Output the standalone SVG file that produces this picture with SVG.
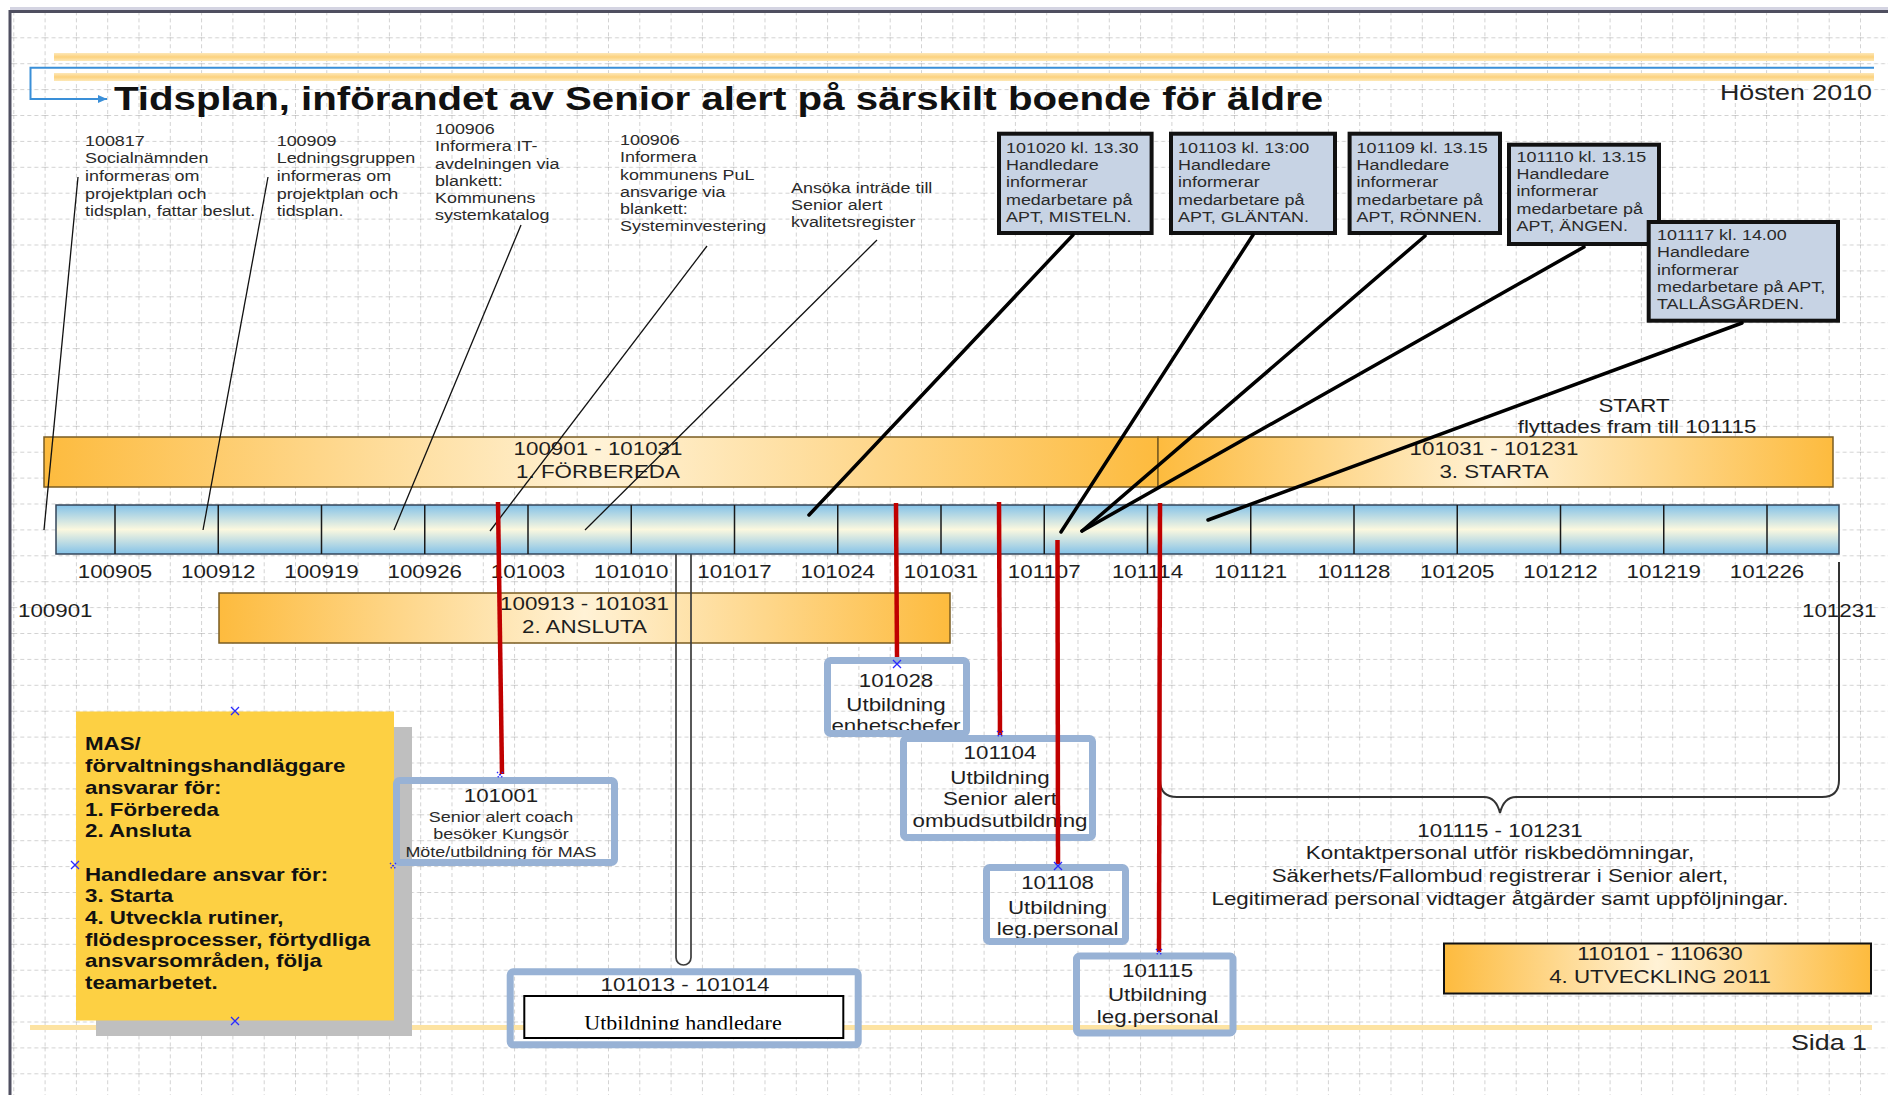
<svg xmlns="http://www.w3.org/2000/svg" width="1888" height="1095" viewBox="0 0 1888 1095">
<defs>
<style>
text{font-family:"Liberation Sans",Arial,sans-serif;fill:#1e1e1e;transform-box:fill-box;transform:scaleX(1.22);transform-origin:0% 50%}
.c{text-anchor:middle;transform-origin:50% 50%}
.e{text-anchor:end;transform-origin:100% 50%}
.s{font-size:14.7px;fill:#2a2a2a}
.m{font-size:18.3px}
.b{font-size:18.3px;font-weight:bold;fill:#111}
.ttl{font-size:33px;font-weight:bold;fill:#111}
.h{font-size:22px;fill:#222}
.tm{font-family:"Liberation Serif","Times New Roman",serif;font-size:22px;transform:none;fill:#000}
.orb{stroke:#7a5c22;stroke-width:1.5}
.tb{fill:#c7d3e4;stroke:#111;stroke-width:4}
.nb{fill:none;stroke:#98b2d5;stroke-width:7}
.red{stroke:#c00000;stroke-width:4.5;fill:none}
.lead{stroke:#000;stroke-width:3.5;stroke-linecap:round}
.thin{stroke:#111;stroke-width:1.3}
.xm{stroke:#2a2aff;stroke-width:1.3}
.div{stroke:#1a1a1a;stroke-width:1.5}
</style>
<pattern id="grid" patternUnits="userSpaceOnUse" x="13.3" y="11.4" width="31.3" height="25.9">
<path d="M0,0 V25.9 M0,0 H31.3" fill="none" stroke="#a6a6a6" stroke-width="1" stroke-dasharray="4 3"/>
</pattern>
<linearGradient id="og" x1="0" y1="0" x2="1" y2="0"><stop offset="0" stop-color="#fdbb3e"/><stop offset="0.5" stop-color="#fff2d6"/><stop offset="1" stop-color="#fdbb3e"/></linearGradient>
<linearGradient id="bg" x1="0" y1="0" x2="0" y2="1"><stop offset="0" stop-color="#84c2e8"/><stop offset="0.5" stop-color="#fbf8df"/><stop offset="1" stop-color="#84c2e8"/></linearGradient>
<linearGradient id="band" x1="0" y1="0" x2="0" y2="1"><stop offset="0" stop-color="#fde8b8"/><stop offset="0.5" stop-color="#fcd27e"/><stop offset="1" stop-color="#fde8b8"/></linearGradient>
<marker id="ba" markerWidth="9" markerHeight="8" refX="9" refY="4" orient="auto" markerUnits="userSpaceOnUse"><path d="M0,0 L9,4 L0,8 z" fill="#3a8fd8"/></marker>
<clipPath id="clipU"><rect x="524" y="996" width="320" height="33.5"/></clipPath>
</defs>

<rect x="0" y="0" width="1888" height="1095" fill="#fff"/>
<rect x="11" y="13" width="1877" height="1082" fill="url(#grid)"/>
<path d="M10,1095 V11.5 H1888" fill="none" stroke="#4f4f60" stroke-width="3"/>
<rect x="10" y="7" width="1878" height="3" fill="#d4d4e2"/>

<g id="header">
<rect x="54" y="53" width="1820" height="8" fill="url(#band)"/>
<rect x="54" y="73" width="1820" height="8" fill="url(#band)"/>
<path d="M1874,67.7 H30.5 V99 H107" fill="none" stroke="#3a8fd8" stroke-width="2" marker-end="url(#ba)"/>
<text class="ttl" x="114" y="110">Tidsplan, införandet av Senior alert på särskilt boende för äldre</text>
<text class="h e" x="1872" y="100">Hösten 2010</text>
</g>

<rect x="30" y="1025" width="1842" height="5" fill="#fde3a2"/>

<g id="bar-forbereda">
<rect class="orb" x="44" y="437" width="1114" height="50" fill="url(#og)"/>
<text class="m c" x="598" y="455">100901 - 101031</text>
<text class="m c" x="598" y="478">1. FÖRBEREDA</text>
</g>
<g id="bar-starta">
<rect class="orb" x="1158" y="437" width="675" height="50" fill="url(#og)"/>
<text class="m c" x="1494" y="455">101031 - 101231</text>
<text class="m c" x="1494" y="478">3. STARTA</text>
</g>
<g id="start-note">
<text class="m c" x="1634" y="411.7">START</text>
<text class="m c" x="1637" y="433">flyttades fram till 101115</text>
</g>

<g id="bar-ansluta">
<rect class="orb" x="219" y="593" width="731" height="50" fill="url(#og)"/>
<text class="m c" x="584.5" y="610">100913 - 101031</text>
<text class="m c" x="584.5" y="633.3">2. ANSLUTA</text>
</g>

<rect id="capsule" x="676" y="530" width="15" height="435" rx="7.5" fill="none" stroke="#3c3c3c" stroke-width="1.7"/>

<g id="timeline">
<rect x="56" y="505" width="1783" height="49" fill="url(#bg)" stroke="#34465a" stroke-width="1.5"/>
<path class="div" d="M115,505V554 M218.25,505V554 M321.5,505V554 M424.75,505V554 M528,505V554 M631.25,505V554 M734.5,505V554 M837.75,505V554 M941,505V554 M1044.25,505V554 M1147.5,505V554 M1250.75,505V554 M1354,505V554 M1457.25,505V554 M1560.5,505V554 M1663.75,505V554 M1767,505V554"/>
<text class="m c" x="115" y="578">100905</text>
<text class="m c" x="218.25" y="578">100912</text>
<text class="m c" x="321.5" y="578">100919</text>
<text class="m c" x="424.75" y="578">100926</text>
<text class="m c" x="528" y="578">101003</text>
<text class="m c" x="631.25" y="578">101010</text>
<text class="m c" x="734.5" y="578">101017</text>
<text class="m c" x="837.75" y="578">101024</text>
<text class="m c" x="941" y="578">101031</text>
<text class="m c" x="1044.25" y="578">101107</text>
<text class="m c" x="1147.5" y="578">101114</text>
<text class="m c" x="1250.75" y="578">101121</text>
<text class="m c" x="1354" y="578">101128</text>
<text class="m c" x="1457.25" y="578">101205</text>
<text class="m c" x="1560.5" y="578">101212</text>
<text class="m c" x="1663.75" y="578">101219</text>
<text class="m c" x="1767" y="578">101226</text>
<text class="m" x="18" y="617">100901</text>
<text class="m" x="1802" y="617">101231</text>
</g>

<g id="ann-100817">
<text class="s" x="85" y="145.7">100817<tspan x="85" dy="17.7">Socialnämnden</tspan><tspan x="85" dy="17.7">informeras om</tspan><tspan x="85" dy="17.7">projektplan och</tspan><tspan x="85" dy="17.7">tidsplan, fattar beslut.</tspan></text>
</g>
<g id="ann-100909">
<text class="s" x="276.7" y="145.7">100909<tspan x="276.7" dy="17.7">Ledningsgruppen</tspan><tspan x="276.7" dy="17.7">informeras om</tspan><tspan x="276.7" dy="17.7">projektplan och</tspan><tspan x="276.7" dy="17.7">tidsplan.</tspan></text>
</g>
<g id="ann-100906-it">
<text class="s" x="435" y="134">100906<tspan x="435" dy="17.3">Informera IT-</tspan><tspan x="435" dy="17.3">avdelningen via</tspan><tspan x="435" dy="17.3">blankett:</tspan><tspan x="435" dy="17.3">Kommunens</tspan><tspan x="435" dy="17.3">systemkatalog</tspan></text>
</g>
<g id="ann-100906-pul">
<text class="s" x="620" y="145">100906<tspan x="620" dy="17.3">Informera</tspan><tspan x="620" dy="17.3">kommunens PuL</tspan><tspan x="620" dy="17.3">ansvarige via</tspan><tspan x="620" dy="17.3">blankett:</tspan><tspan x="620" dy="17.3">Systeminvestering</tspan></text>
</g>
<g id="ann-ansoka">
<text class="s" x="791" y="193.5">Ansöka inträde till<tspan x="791" dy="17">Senior alert</tspan><tspan x="791" dy="17">kvalitetsregister</tspan></text>
</g>

<g id="apt-misteln">
<rect class="tb" x="999" y="133.7" width="152.6" height="99.3"/>
<text class="s" x="1006" y="153">101020 kl. 13.30<tspan x="1006" dy="17.25">Handledare</tspan><tspan x="1006" dy="17.25">informerar</tspan><tspan x="1006" dy="17.25">medarbetare på</tspan><tspan x="1006" dy="17.25">APT, MISTELN.</tspan></text>
</g>
<g id="apt-glantan">
<rect class="tb" x="1171" y="133.7" width="164" height="99.3"/>
<text class="s" x="1178" y="153">101103 kl. 13:00<tspan x="1178" dy="17.25">Handledare</tspan><tspan x="1178" dy="17.25">informerar</tspan><tspan x="1178" dy="17.25">medarbetare på</tspan><tspan x="1178" dy="17.25">APT, GLÄNTAN.</tspan></text>
</g>
<g id="apt-ronnen">
<rect class="tb" x="1349.6" y="133.7" width="150.4" height="99.3"/>
<text class="s" x="1356.6" y="153">101109 kl. 13.15<tspan x="1356.6" dy="17.25">Handledare</tspan><tspan x="1356.6" dy="17.25">informerar</tspan><tspan x="1356.6" dy="17.25">medarbetare på</tspan><tspan x="1356.6" dy="17.25">APT, RÖNNEN.</tspan></text>
</g>
<g id="apt-angen">
<rect class="tb" x="1509" y="144.7" width="150" height="99.3"/>
<text class="s" x="1516.5" y="161.7">101110 kl. 13.15<tspan x="1516.5" dy="17.3">Handledare</tspan><tspan x="1516.5" dy="17.3">informerar</tspan><tspan x="1516.5" dy="17.3">medarbetare på</tspan><tspan x="1516.5" dy="17.3">APT, ÄNGEN.</tspan></text>
</g>
<g id="apt-tallasgarden">
<rect class="tb" x="1648.7" y="222" width="189.3" height="98.7"/>
<text class="s" x="1657" y="240">101117 kl. 14.00<tspan x="1657" dy="17.3">Handledare</tspan><tspan x="1657" dy="17.3">informerar</tspan><tspan x="1657" dy="17.3">medarbetare på APT,</tspan><tspan x="1657" dy="17.3">TALLÅSGÅRDEN.</tspan></text>
</g>

<g id="mas-note">
<rect x="96" y="727" width="316" height="309" fill="#bfbfbf"/>
<rect x="76" y="711.5" width="318" height="309" fill="#fdd043"/>
<text class="b" x="85" y="750.5">MAS/<tspan x="85" dy="21.7">förvaltningshandläggare</tspan><tspan x="85" dy="21.7">ansvarar för:</tspan><tspan x="85" dy="21.7">1. Förbereda</tspan><tspan x="85" dy="21.7">2. Ansluta</tspan><tspan x="85" dy="43.4">Handledare ansvar för:</tspan><tspan x="85" dy="21.7">3. Starta</tspan><tspan x="85" dy="21.7">4. Utveckla rutiner,</tspan><tspan x="85" dy="21.7">flödesprocesser, förtydliga</tspan><tspan x="85" dy="21.7">ansvarsområden, följa</tspan><tspan x="85" dy="21.7">teamarbetet.</tspan></text>
</g>

<g id="node-101001">
<text class="m c" x="501" y="801.7">101001</text>
<text class="s c" x="501" y="821.7">Senior alert coach<tspan x="501" dy="17.5">besöker Kungsör</tspan><tspan x="501" dy="17.5">Möte/utbildning för MAS</tspan></text>
<rect class="nb" x="396.5" y="780.5" width="218" height="82" rx="3"/>
</g>
<g id="node-101028">
<text class="m c" x="896" y="686.7">101028<tspan x="896" dy="24">Utbildning</tspan><tspan x="896" dy="21">enhetschefer</tspan></text>
<rect class="nb" x="827.5" y="660.5" width="139" height="73" rx="3"/>
</g>
<g id="node-101104">
<text class="m c" x="1000" y="759">101104<tspan x="1000" dy="25">Utbildning</tspan><tspan x="1000" dy="21.5">Senior alert</tspan><tspan x="1000" dy="22">ombudsutbildning</tspan></text>
<rect class="nb" x="903.5" y="738.5" width="189" height="99" rx="3"/>
</g>
<g id="node-101108">
<text class="m c" x="1057.6" y="889.3">101108<tspan x="1057.6" dy="24.5">Utbildning</tspan><tspan x="1057.6" dy="21">leg.personal</tspan></text>
<rect class="nb" x="986.5" y="867.5" width="139" height="74" rx="3"/>
</g>
<g id="node-101115">
<text class="m c" x="1157.6" y="976.7">101115<tspan x="1157.6" dy="24.3">Utbildning</tspan><tspan x="1157.6" dy="21.7">leg.personal</tspan></text>
<rect class="nb" x="1076.5" y="956" width="156.5" height="77" rx="3"/>
</g>
<g id="node-101013">
<text class="m c" x="685" y="991.5">101013 - 101014</text>
<rect x="524.3" y="996" width="319" height="42" fill="#fff" stroke="#000" stroke-width="2"/>
<text class="tm" x="683" y="1029.5" text-anchor="middle" clip-path="url(#clipU)">Utbildning handledare</text>
<rect class="nb" x="510.2" y="971.8" width="348" height="73" rx="3"/>
</g>

<g id="bar-utveckling">
<rect x="1444" y="943.5" width="427" height="50" fill="url(#og)" stroke="#111" stroke-width="2"/>
<text class="m c" x="1660" y="960">110101 - 110630</text>
<text class="m c" x="1660" y="983">4. UTVECKLING 2011</text>
</g>

<g id="period-101115-101231">
<path d="M1160,562 V780 Q1160,797 1177,797 H1484 Q1496,797 1500,813 Q1504,797 1516,797 H1822 Q1839,797 1839,780 V562" fill="none" stroke="#333" stroke-width="2"/>
<text class="m c" x="1500" y="836.7">101115 - 101231<tspan x="1500" dy="22.7">Kontaktpersonal utför riskbedömningar,</tspan><tspan x="1500" dy="22.7">Säkerhets/Fallombud registrerar i Senior alert,</tspan><tspan x="1500" dy="22.7">Legitimerad personal vidtager åtgärder samt uppföljningar.</tspan></text>
</g>

<text class="h e" x="1867" y="1050">Sida 1</text>

<g id="connectors">
<line class="thin" x1="78" y1="177" x2="44" y2="530"/>
<line class="thin" x1="268" y1="177" x2="203" y2="530"/>
<line class="thin" x1="521" y1="225" x2="394" y2="530"/>
<line class="thin" x1="707" y1="246" x2="490" y2="531"/>
<line class="thin" x1="877" y1="240" x2="585" y2="530"/>
<line class="lead" x1="1073" y1="235" x2="809" y2="515"/>
<line class="lead" x1="1253" y1="235" x2="1061" y2="532"/>
<line class="lead" x1="1425" y1="236" x2="1082" y2="531"/>
<line class="lead" x1="1584" y1="247" x2="1082" y2="531"/>
<line class="lead" x1="1742" y1="323" x2="1208" y2="520"/>
<line class="red" x1="498" y1="502" x2="502" y2="774"/>
<line class="red" x1="896" y1="503" x2="897" y2="657"/>
<line class="red" x1="999" y1="502" x2="1000" y2="735"/>
<line class="red" x1="1057.5" y1="540" x2="1058" y2="864"/>
<line class="red" x1="1160" y1="503" x2="1159" y2="952"/>
</g>

<g id="markers">
<path class="xm" d="M231,707 l8,8 M239,707 l-8,8"/>
<path class="xm" d="M71,861 l8,8 M79,861 l-8,8"/>
<path class="xm" d="M231,1017 l8,8 M239,1017 l-8,8"/>
<path class="xm" d="M893,660 l8,8 M901,660 l-8,8"/>
<path class="xm" d="M1054,862 l8,8 M1062,862 l-8,8"/>
<path class="xm" d="M390,863 l6,6 M396,863 l-6,6" stroke-dasharray="1.5 1.5"/>
<path class="xm" d="M497,772 l6,6 M503,772 l-6,6" stroke-dasharray="1.5 1.5"/>
<path class="xm" d="M997,731 l6,6 M1003,731 l-6,6" stroke-dasharray="1.5 1.5"/>
<path class="xm" d="M1156,949 l6,6 M1162,949 l-6,6" stroke-dasharray="1.5 1.5"/>
</g>
</svg>
